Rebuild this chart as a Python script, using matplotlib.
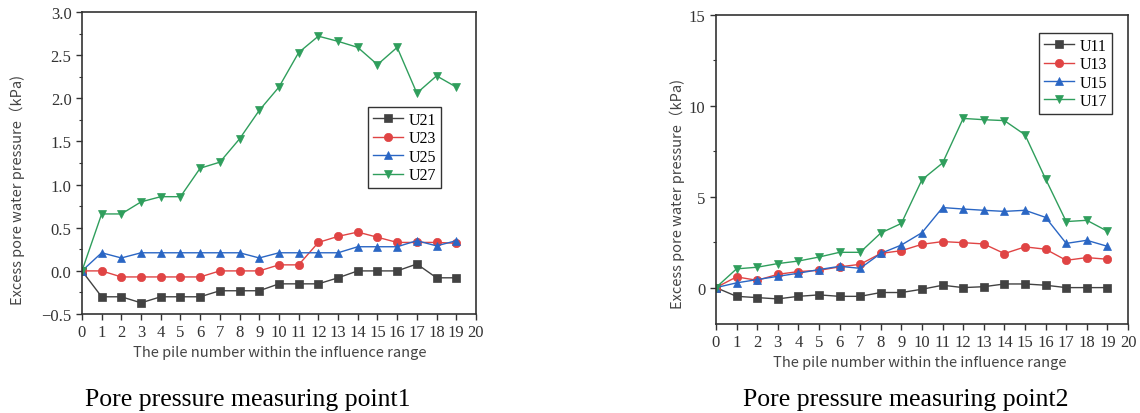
import matplotlib
matplotlib.use("Agg")
import matplotlib.pyplot as plt
from matplotlib.ticker import MultipleLocator, FuncFormatter

piles = list(range(20))

# Measuring point 1
U21 = [0, -0.30, -0.30, -0.37, -0.30, -0.30, -0.30, -0.23, -0.23, -0.23, -0.15, -0.15, -0.15, -0.08, 0.0, 0.0, 0.0, 0.08, -0.08, -0.08]
U23 = [0, 0.0, -0.07, -0.07, -0.07, -0.07, -0.07, 0.0, 0.0, 0.0, 0.07, 0.07, 0.33, 0.40, 0.45, 0.39, 0.33, 0.33, 0.33, 0.32]
U25 = [0, 0.21, 0.15, 0.21, 0.21, 0.21, 0.21, 0.21, 0.21, 0.15, 0.21, 0.21, 0.21, 0.21, 0.28, 0.28, 0.28, 0.35, 0.29, 0.35]
U27 = [0, 0.66, 0.66, 0.80, 0.86, 0.86, 1.19, 1.26, 1.53, 1.86, 2.13, 2.53, 2.72, 2.66, 2.59, 2.39, 2.59, 2.06, 2.26, 2.13]

# Measuring point 2
U11 = [0, -0.48, -0.55, -0.62, -0.48, -0.40, -0.48, -0.48, -0.27, -0.27, -0.09, 0.13, 0.0, 0.05, 0.20, 0.20, 0.13, 0.0, 0.0, 0.0]
U13 = [0, 0.59, 0.40, 0.73, 0.88, 0.95, 1.14, 1.28, 1.88, 2.03, 2.38, 2.53, 2.47, 2.40, 1.87, 2.24, 2.11, 1.50, 1.65, 1.56]
U15 = [0, 0.26, 0.44, 0.62, 0.79, 0.99, 1.17, 1.06, 1.88, 2.34, 3.02, 4.40, 4.32, 4.25, 4.19, 4.25, 3.86, 2.43, 2.60, 2.27]
U17 = [0, 1.03, 1.12, 1.32, 1.46, 1.68, 1.94, 1.94, 3.00, 3.53, 5.93, 6.85, 9.30, 9.23, 9.18, 8.40, 5.97, 3.63, 3.70, 3.10]

labels1 = ["U21", "U23", "U25", "U27"]
labels2 = ["U11", "U13", "U15", "U17"]
title1 = "Pore pressure measuring point1"
title2 = "Pore pressure measuring point2"
xlabel = "The pile number within the influence range"
ylabel = "Excess pore water pressure（kPa)"

colors = ["#424242", "#e04444", "#2a66c4", "#2f9e5c"]
markers = ["s", "o", "^", "v"]

serif = ["Liberation Serif", "DejaVu Serif"]
sans = ["Noto Sans CJK SC", "DejaVu Sans"]
plt.rcParams["font.family"] = serif

fig = plt.figure(figsize=(11.4, 4.14), dpi=100)
ax1 = fig.add_axes([0.0719, 0.239, 0.4175 - 0.0719, 0.9686 - 0.239])
ax2 = fig.add_axes([0.628, 0.215, 0.9895 - 0.628, 0.962 - 0.215])


def fmt1(v, pos):
    s = f"{v:.1f}"
    return s.replace("-", "\u2212")


def style(ax, series, labels, ylim, major, minor, formatter, leg_anchor, xl_coords, yl_coords):
    for ys, lab, c, m in zip(series, labels, colors, markers):
        ax.plot(piles, ys, color=c, marker=m, markersize=6, lw=1.0, label=lab,
                markeredgewidth=0.5, markeredgecolor=c)
    ax.set_xlim(0, 20)
    ax.set_ylim(*ylim)
    ax.xaxis.set_major_locator(MultipleLocator(1))
    ax.yaxis.set_major_locator(MultipleLocator(major))
    ax.yaxis.set_minor_locator(MultipleLocator(minor))
    ax.yaxis.set_major_formatter(FuncFormatter(formatter))
    ax.tick_params(axis="both", which="major", direction="out", length=4, width=1, color="#333333",
                   labelsize=12, labelcolor="#333333")
    ax.tick_params(axis="y", which="minor", direction="out", length=2.5, width=0.8, color="#333333")
    for sp in ax.spines.values():
        sp.set_color("#333333")
        sp.set_linewidth(1.2)
    ax.set_xlabel(xlabel, fontsize=10.5, color="#444444", family=sans)
    ax.set_ylabel(ylabel, fontsize=10.5, color="#444444", family=sans)
    ax.xaxis.set_label_coords(*xl_coords)
    ax.yaxis.set_label_coords(*yl_coords)
    leg = ax.legend(loc="upper left", bbox_to_anchor=leg_anchor, fancybox=False, framealpha=1,
                    edgecolor="#333333", prop={"family": serif, "size": 11.5}, handlelength=1.9,
                    handletextpad=0.35, borderpad=0.3, labelspacing=0.15, borderaxespad=0)
    leg.get_frame().set_linewidth(1.0)


style(ax1, [U21, U23, U25, U27], labels1, (-0.5, 3.0), 0.5, 0.25, fmt1, (0.726, 0.685),
      (0.503, -0.103), (-0.145, 0.414))
style(ax2, [U11, U13, U15, U17], labels2, (-2, 15), 5, 2.5, lambda v, p: f"{v:g}", (0.784, 0.941),
      (0.495, -0.100), (-0.075, 0.424))

fig.text(248 / 1140, 1 - 400 / 414, title1, ha="center", va="center", fontsize=18.5, family=serif)
fig.text(906 / 1140, 1 - 400 / 414, title2, ha="center", va="center", fontsize=18.5, family=serif)

fig.savefig("out.png", dpi=100)
